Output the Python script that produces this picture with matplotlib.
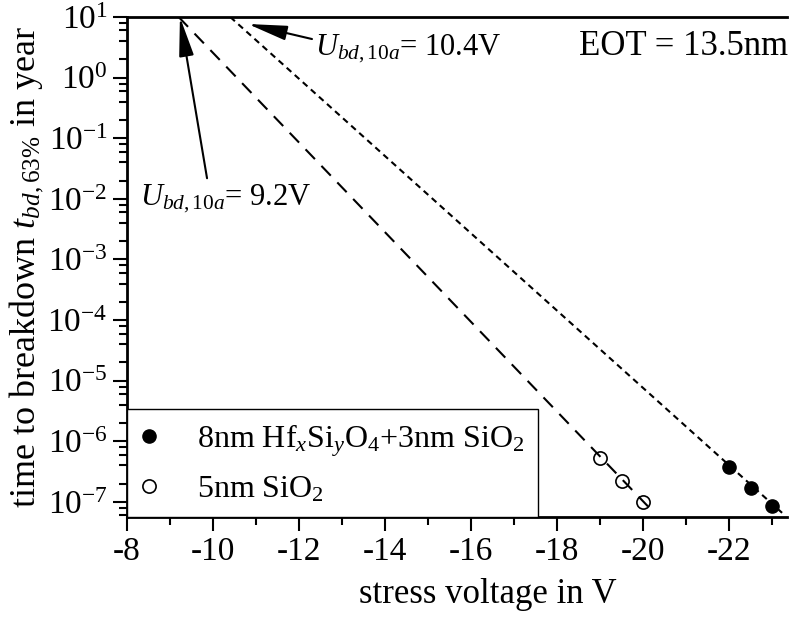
import matplotlib
matplotlib.use("Agg")
import matplotlib.pyplot as plt
import numpy as np
from matplotlib.ticker import FixedLocator, LogLocator, MultipleLocator, NullFormatter

plt.rcParams["font.family"] = ["Liberation Serif", "DejaVu Serif"]
plt.rcParams["mathtext.fontset"] = "custom"
plt.rcParams["mathtext.rm"] = "Liberation Serif"
plt.rcParams["mathtext.it"] = "Liberation Serif:italic"
plt.rcParams["axes.unicode_minus"] = False

# measured lifetimes (years) vs stress voltage
hfsio_v = [-22.0, -22.5, -23.0]
hfsio_t = [3.8e-7, 1.7e-7, 8.7e-8]
sio2_v = [-19.0, -19.5, -20.0]
sio2_t = [5.4e-7, 2.2e-7, 1.0e-7]

# extrapolation lines (start at 10 years)
hfsio_fit_v = [-10.4, -23.23]
hfsio_fit_t = [10.0, 6.6e-8]
sio2_fit_v = [-9.2, -20.15]
sio2_fit_t = [10.0, 7.9e-8]

x_major = [-8, -10, -12, -14, -16, -18, -20, -22]

fig = plt.figure(figsize=(7.92, 6.17), dpi=100)
ax = fig.add_axes([0.1604, 0.162, 0.8336, 0.8104])

ax.plot(hfsio_v, hfsio_t, "o", color="black", ms=9.5, zorder=3,
        label=r"8nm Hf$_x$Si$_y$O$_4$+3nm SiO$_2$")
ax.plot(sio2_v, sio2_t, "o", mfc="none", mec="black", mew=1.2, ms=9.5, zorder=3,
        label=r"5nm SiO$_2$")
ax.plot(hfsio_fit_v, hfsio_fit_t, color="black", lw=1.5, dashes=(3, 2.2), zorder=4)
ax.plot(sio2_fit_v, sio2_fit_t, color="black", lw=1.5, dashes=(6.5, 4.5), zorder=4)

ax.set_yscale("log")
ax.set_xlim(-8, -23.35)
ax.set_ylim(10 ** -7.25, 10)

ax.xaxis.set_major_locator(FixedLocator(x_major))
ax.xaxis.set_minor_locator(MultipleLocator(1))
ax.yaxis.set_major_locator(LogLocator(base=10, numticks=20))
ax.yaxis.set_minor_locator(LogLocator(base=10, subs=(2, 4, 6, 8), numticks=20))
ax.yaxis.set_minor_formatter(NullFormatter())

ax.tick_params(axis="both", which="major", direction="out", length=10, width=1.5,
               labelsize=24, pad=4)
ax.tick_params(axis="both", which="minor", direction="out", length=6, width=1.5)

for side in ("left", "bottom", "top"):
    ax.spines[side].set_linewidth(2)
ax.spines["right"].set_visible(False)

ax.set_xlabel("stress voltage in V", fontsize=25)
ax.xaxis.set_label_coords(0.547, -0.122)
ax.set_ylabel(r"time to breakdown $t_{bd,63\%}$ in year", fontsize=26, labelpad=2)

arrow = dict(arrowstyle="-|>,head_length=2.4,head_width=0.45", color="black",
             lw=1.5, shrinkA=0, shrinkB=0)
ax.annotate("", xy=(-9.23, 10.0), xytext=(-9.86, 10 ** -1.66), arrowprops=arrow)
ax.annotate("", xy=(-10.81, 10 ** 0.885), xytext=(-12.3, 10 ** 0.637), arrowprops=arrow)

ax.text(-8.3, 10 ** -2.1, r"$U_{bd,10a}$= 9.2V", fontsize=22, ha="left", va="baseline")
ax.text(-12.37, 10 ** 0.373, r"$U_{bd,10a}$= 10.4V", fontsize=22, ha="left", va="baseline")
ax.text(-23.37, 10 ** 0.373, "EOT = 13.5nm", fontsize=25, ha="right", va="baseline")

leg = ax.legend(loc="lower left", borderaxespad=0, fancybox=False, frameon=True,
                edgecolor="black", framealpha=1, fontsize=23, handlelength=0.6,
                handletextpad=1.2, borderpad=0.4, labelspacing=0.5)
leg.get_frame().set_linewidth(1.0)

fig.savefig("out.png", dpi=100)
